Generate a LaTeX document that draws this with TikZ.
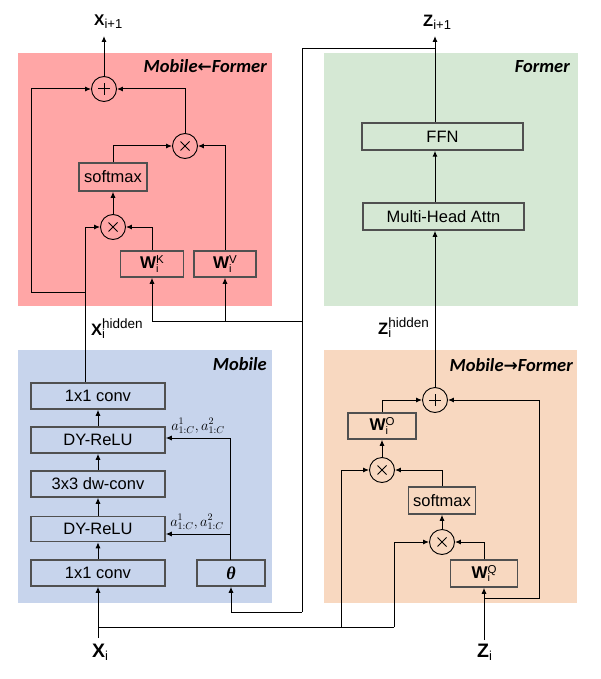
\documentclass[tikz,border=0pt]{standalone}
\usepackage{fontspec}
\setmainfont{Liberation Sans}
\newfontfamily\titlefont{Carlito}
\newfontfamily\symfont{DejaVu Sans}
\newfontfamily\thfont{Liberation Serif}
\usetikzlibrary{arrows.meta}
\definecolor{pred}{RGB}{255,166,166}
\definecolor{pgreen}{RGB}{213,232,212}
\definecolor{pblue}{RGB}{199,212,236}
\definecolor{porange}{RGB}{248,216,192}
\definecolor{boxgray}{RGB}{80,80,80}
\newcommand\mybig[2]{{\fontsize{#1}{#1}\selectfont\bfseries #2}}
\newcommand\mysub[1]{\raisebox{-3.5pt}{\fontsize{13}{13}\selectfont #1}}
\newcommand\mysup[1]{\raisebox{7pt}{\fontsize{13.5}{13.5}\selectfont #1}}
\newcommand\wsym[1]{{\fontsize{17}{17}\selectfont\bfseries W}\rlap{\raisebox{-3.5pt}{\fontsize{11}{11}\selectfont i}}\raisebox{5pt}{\fontsize{11.5}{11.5}\selectfont #1}}
\begin{document}
\begin{tikzpicture}[x=1pt,y=-1pt,
  blk/.style={draw=boxgray, line width=1.5pt, inner sep=0pt, font=\fontsize{16.5}{18}\selectfont},
  op/.style={circle, draw, line width=0.9pt, minimum size=25pt, inner sep=0pt},
  plusop/.style={op, path picture={\draw[line width=1pt]
      ([xshift=-6pt]path picture bounding box.center) -- ([xshift=6pt]path picture bounding box.center)
      ([yshift=-6pt]path picture bounding box.center) -- ([yshift=6pt]path picture bounding box.center);}},
  timesop/.style={op, path picture={\draw[line width=1pt]
      ([shift={(-4.5pt,-4.5pt)}]path picture bounding box.center) -- ([shift={(4.5pt,4.5pt)}]path picture bounding box.center)
      ([shift={(-4.5pt,4.5pt)}]path picture bounding box.center) -- ([shift={(4.5pt,-4.5pt)}]path picture bounding box.center);}},
  ln/.style={line width=1pt},
  arr/.style={line width=1pt, -{Latex[length=6pt,width=5pt]}},
  ttl/.style={anchor=base east, inner sep=0pt, font={\fontsize{18.5}{20}\selectfont\titlefont\bfseries\itshape}},
  lbl/.style={anchor=base west, inner sep=0pt},
  alab/.style={inner sep=0pt, font=\fontsize{14}{14}\selectfont}
]
\useasboundingbox (0,0) rectangle (600,679);
% panels
\fill[pred] (18,53) rectangle (272,306);
\fill[pgreen] (324,53) rectangle (578,306);
\fill[pblue] (18,350) rectangle (272,603);
\fill[porange] (324,350) rectangle (577,603);
% titles
\node[ttl] (tmf) at (267,73) {Mobile{\symfont\bfseries\fontsize{17}{17}\selectfont ←}Former};
\node[ttl] (tfo) at (570,73) {Former};
\node[ttl] (tmo) at (267,370) {Mobile};
\node[ttl] (tmt) at (573,371) {Mobile{\symfont\bfseries\fontsize{17}{17}\selectfont →}Former};

% ---------- Mobile<-Former ----------
\node[plusop] (plL) at (104,89) {};
\node[timesop] (tL2) at (185,146) {};
\node[blk, minimum width=68pt, minimum height=28pt] (smL) at (113,177) {softmax};
\node[timesop] (tL1) at (113,227) {};
\node[blk, minimum width=63pt, minimum height=26pt] (wk) at (152,264) {\wsym{K}};
\node[blk, minimum width=62pt, minimum height=26pt] (wv) at (225,264) {\wsym{V}};

\node[lbl] (xnl) at (94,25.5) {\mybig{15.5}{X}\mysub{i+1}};
\coordinate (xo) at (104,36);
\draw[arr] (plL.north) -- (xo);

\coordinate (hx) at (85,292);
\coordinate (lx) at (31,292);
\coordinate (hs) at (85,383);
\draw[arr] (hs) -- (hx |- tL1) -- (tL1.west);
\draw[arr] (hx) -- (lx) |- (plL.west);
\draw[arr] (tL1.north) -- (smL.south);
\draw[arr] (smL.north) |- (tL2.west);
\draw[arr] (wk.north) |- (tL1.east);
\draw[arr] (wv.north) |- (tL2.east);
\draw[arr] (tL2.north) |- (plL.east);
\node[lbl] (xhl) at (91,335) {\mybig{16.5}{X}\rlap{\mysub{i}}\mysup{hidden}};

% ---------- Former ----------
\node[blk, minimum width=161pt, minimum height=27pt] (ffn) at (442.5,136.5) {FFN};
\node[blk, minimum width=161pt, minimum height=27pt] (mha) at (443.5,216.5) {Multi-Head Attn};
\coordinate (zo) at (435,36);
\draw[arr] (ffn.north -| zo) -- (zo);
\draw[arr] (mha.north -| zo) -- (ffn.south -| zo);
\node[lbl] (znl) at (423,26.5) {\mybig{16.5}{Z}\mysub{i+1}};
\node[lbl] (zhl) at (378,334) {\mybig{16.5}{Z}\rlap{\mysub{i}}\mysup{hidden}};

% feedback path
\coordinate (zj) at (435,49);
\coordinate (fb) at (302,49);
\coordinate (fk) at (302,321);
\coordinate (ft) at (302,612);
\draw[ln] (zj) -- (fb) -- (ft);
\draw[arr] (fk) -| (wk.south);
\draw[arr] (wv.south |- fk) -- (wv.south);

% ---------- Mobile ----------
\node[blk, minimum width=134pt, minimum height=26pt] (c1t) at (98,396) {1x1 conv};
\node[blk, minimum width=134pt, minimum height=26pt] (dr1) at (98,440) {DY-ReLU};
\node[blk, minimum width=134pt, minimum height=26pt] (dw) at (98,484) {3x3 dw-conv};
\node[blk, minimum width=134pt, minimum height=25pt] (dr2) at (98,529) {DY-ReLU};
\node[blk, minimum width=134pt, minimum height=26pt] (c1b) at (98,573) {1x1 conv};
\node[blk, minimum width=68pt, minimum height=26pt] (th) at (231,573) {\thfont\bfseries\itshape\fontsize{18}{18}\selectfont θ};
\draw[arr] (c1b.north) -- (dr2.south);
\draw[arr] (dr2.north) -- (dw.south);
\draw[arr] (dw.north) -- (dr1.south);
\draw[arr] (dr1.north) -- (c1t.south);
\draw[arr] (ft) -| (th.south);
\coordinate (ta) at (230,438);
\coordinate (tb) at (230,534);
\coordinate (tt) at (230,560);
\draw[arr] (tt) -- (ta) -- (ta -| dr1.east);
\draw[arr] (tb) -- (tb -| dr2.east);
\node[alab] (al1) at (198,426) {$a^1_{1:C}, a^2_{1:C}$};
\node[alab] (al2) at (197,522) {$a^1_{1:C}, a^2_{1:C}$};

% ---------- Mobile->Former ----------
\node[plusop] (plR) at (435,400) {};
\node[blk, minimum width=68pt, minimum height=26pt] (wo) at (382,426) {\wsym{O}};
\node[timesop] (tA) at (382,470) {};
\node[blk, minimum width=67pt, minimum height=27pt] (smR) at (442,500.5) {softmax};
\node[timesop] (tB) at (442,542) {};
\node[blk, minimum width=67pt, minimum height=27pt] (wq) at (484,573.5) {\wsym{Q}};
\draw[arr] (plR.north) -- (plR.north |- mha.south);
\draw[arr] (wq.north) |- (tB.east);
\draw[arr] (tB.north) -- (smR.south);
\draw[arr] (smR.north) |- (tA.east);
\draw[arr] (tA.north) -- (wo.south);
\draw[arr] (wo.north) |- (plR.west);
\coordinate (zi) at (484,640);
\coordinate (zb) at (484,598);
\coordinate (zr) at (539,598);
\draw[arr] (zi) -- (wq.south);
\draw[arr] (zb) -- (zr) |- (plR.east);

% inputs
\node[lbl] (xil) at (92,657) {\mybig{19.5}{X}\mysub{i}};
\node[lbl] (zil) at (477,657) {\mybig{19.5}{Z}\mysub{i}};
\coordinate (xi) at (98,638);
\coordinate (xb) at (98,627);
\coordinate (xa1) at (341,627);
\coordinate (xa2) at (394,627);
\draw[arr] (xi) -- (c1b.south);
\draw[ln] (xb) -- (xa2);
\draw[arr] (xa1) |- (tA.west);
\draw[arr] (xa2) |- (tB.west);
\end{tikzpicture}
\end{document}
